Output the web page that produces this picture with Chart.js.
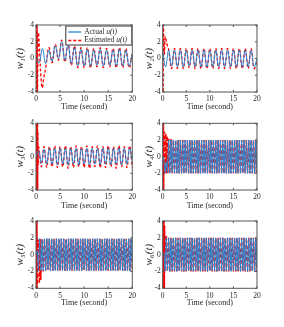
<!DOCTYPE html>
<html><head><meta charset="utf-8">
<script src="https://cdn.jsdelivr.net/npm/chart.js@4.4.0/dist/chart.umd.min.js"></script>
<style>
html,body{margin:0;padding:0;background:#fff;}
body{width:284px;height:327px;position:relative;overflow:hidden;}
canvas{position:absolute;display:block;}
</style></head><body>
<canvas id="c1"></canvas><canvas id="c2"></canvas><canvas id="c3"></canvas>
<canvas id="c4"></canvas><canvas id="c5"></canvas><canvas id="c6"></canvas>
<script>
// ---------- DATA ----------
const xTicks = [0, 5, 10, 15, 20];
const yTicks = [-4, -2, 0, 2, 4];
const xTitle = 'Time (second)';
const yTitles = ['w\u2081(t)', 'w\u2082(t)', 'w\u2083(t)', 'w\u2084(t)', 'w\u2085(t)', 'w\u2086(t)'];
const seriesLabels = ['Actual u(t)', 'Estimated u(t)'];

// sample spacing (s) of the peak/trough readings in each panel
const sampleStep = [2/3, 0.625, 20/36, 0.25, 0.25, 0.25];

// w1
const w1Actual = [0.0,-0.5,1.2,-0.6,1.0,-0.3,1.5,0.0,2.0,-0.2,1.6,-0.6,1.3,-0.9,1.1,-0.9,1.1,-0.9,1.0,-0.8,1.1,-0.9,1.0,-0.8,1.0,-0.9,1.1,-0.9,1.0,-0.9,0.6];
const w1Est = [null,null,null,-1.2,1.3,-0.5,1.7,-0.2,2.2,-0.4,1.8,-0.8,1.5,-1.1,1.3,-1.1,1.3,-1.1,1.2,-1.0,1.3,-1.1,1.2,-1.0,1.2,-1.1,1.3,-1.1,1.2,-1.1,0.7];
const w1EstHeadT = [0,0.06,0.12,0.18,0.24,0.3,0.5,0.75,1.0,1.3,1.65];
const w1EstHeadV = [4,-4,4,-4,4,-4,3.0,0.8,-2.0,-3.5,-2.2];

// w2
const w2Actual = [0.9,-1.0,1.0,-0.9,1.0,-1.0,1.0,-1.0,1.0,-0.9,1.0,-1.0,1.0,-1.0,1.0,-1.0,1.0,-1.0,1.0,-1.0,1.0,-1.0,1.0,-1.0,1.0,-1.0,1.0,-1.0,1.0,-1.0,1.0,-1.0,0.0];
const w2Est = [null,null,1.1,-1.2,1.2,-1.2,1.2,-1.2,1.2,-1.1,1.2,-1.2,1.2,-1.2,1.2,-1.2,1.2,-1.2,1.2,-1.2,1.2,-1.2,1.2,-1.2,1.2,-1.2,1.2,-1.2,1.2,-1.2,1.2,-1.2,-0.3];
const w2EstHeadT = [0,0.05,0.1,0.15,0.35,0.55,0.8,1.0];
const w2EstHeadV = [-4,4,-4,4,0.5,2.6,2.0,1.5];

// w3
const w3Actual = [0.0,0.7,-0.8,0.9,-0.9,1.0,-0.9,1.0,-1.0,1.0,-0.9,1.0,-1.0,1.0,-0.9,1.0,-1.0,1.0,-0.9,1.0,-1.0,1.0,-0.9,1.0,-1.0,1.0,-0.9,1.0,-1.0,1.0,-0.9,1.0,-1.0,1.0,-0.9,1.0,-0.6];
const w3Est = [null,1.2,-1.2,1.2,-1.3,1.2,-1.2,1.3,-1.3,1.2,-1.2,1.3,-1.4,1.2,-1.3,1.3,-1.2,1.2,-1.3,1.3,-1.4,1.2,-1.2,1.3,-1.3,1.2,-1.3,1.3,-1.2,1.2,-1.4,1.3,-1.2,1.2,-1.3,1.3,-1.3];
const w3EstHeadT = [0,0.04,0.08,0.12,0.16,0.2,0.24,0.28,0.32,0.36,0.4,0.45];
const w3EstHeadV = [4,-4,4,-4,4,-4,4,-4,4,-4,3,-1];

// w4
const w4Actual = [0.0,-0.4,-1.9,-0.6,-1.9,
 2.0,-2.0,2.0,-1.9,2.0,-2.0,1.9,-2.0,2.0,-2.0,2.0,-2.0,1.9,-2.0,2.0,-1.9,2.0,-2.0,2.0,-2.0,
 2.0,-2.0,2.0,-1.9,2.0,-2.0,1.9,-2.0,2.0,-2.0,2.0,-2.0,1.9,-2.0,2.0,-1.9,2.0,-2.0,2.0,-2.0,
 2.0,-2.0,2.0,-1.9,2.0,-2.0,1.9,-2.0,2.0,-2.0,2.0,-2.0,1.9,-2.0,2.0,-1.9,2.0,-2.0,2.0,-2.0,
 2.0,-2.0,2.0,-1.9,2.0,-2.0,1.9,-2.0,2.0,-2.0,2.0,-2.0,1.9,-2.0,2.0,-1.9];
const w4Est = [null,null,null,null,null,
 2.2,-2.0,2.1,-2.0,2.0,-2.0,2.0,-2.0,2.0,-2.0,2.0,-2.0,2.0,-2.0,2.0,-2.0,2.0,-2.0,2.0,-2.0,
 2.0,-2.0,2.0,-2.0,2.0,-2.0,2.0,-2.0,2.0,-2.0,2.0,-2.0,2.0,-2.0,2.0,-2.0,2.0,-2.0,2.0,-2.0,
 2.0,-2.0,2.0,-2.0,2.0,-2.0,2.0,-2.0,2.0,-2.0,2.0,-2.0,2.0,-2.0,2.0,-2.0,2.0,-2.0,2.0,-2.0,
 2.0,-2.0,2.0,-2.0,2.0,-2.0,2.0,-2.0,2.0,-2.0,2.0,-2.0,2.0,-2.0,2.0,-2.0];
const w4EstHeadT = [0,0.04,0.08,0.12,0.16,0.2,0.35,0.5,0.65,0.8,0.95,1.1];
const w4EstHeadV = [4,-4,4,-4,4,-4,3.0,-2.0,2.8,-2.0,2.5,-2.0];

// w5
const w5Actual = [0.0,0.5,-1.9,
 1.9,-1.9,1.8,-1.9,1.9,-1.9,1.9,-1.8,1.9,-1.9,1.9,-1.9,1.8,-1.9,1.9,-1.9,1.9,-1.8,1.9,-1.9,
 1.9,-1.9,1.8,-1.9,1.9,-1.9,1.9,-1.8,1.9,-1.9,1.9,-1.9,1.8,-1.9,1.9,-1.9,1.9,-1.8,1.9,-1.9,
 1.9,-1.9,1.8,-1.9,1.9,-1.9,1.9,-1.8,1.9,-1.9,1.9,-1.9,1.8,-1.9,1.9,-1.9,1.9,-1.8,1.9,-1.9,
 1.9,-1.9,1.8,-1.9,1.9,-1.9,1.9,-1.8,1.9,-1.9,1.9,-1.9,1.8,-1.9,1.9,-1.9,1.9,-1.8];
const w5Est = [null,null,null,null,null,
 1.9,-2.0,1.9,-1.9,1.9,-1.9,1.9,-1.9,1.9,-1.9,1.9,-1.9,1.9,-1.9,1.9,-1.9,1.9,-1.9,1.9,-1.9,
 1.9,-1.9,1.9,-1.9,1.9,-1.9,1.9,-1.9,1.9,-1.9,1.9,-1.9,1.9,-1.9,1.9,-1.9,1.9,-1.9,1.9,-1.9,
 1.9,-1.9,1.9,-1.9,1.9,-1.9,1.9,-1.9,1.9,-1.9,1.9,-1.9,1.9,-1.9,1.9,-1.9,1.9,-1.9,1.9,-1.9,
 1.9,-1.9,1.9,-1.9,1.9,-1.9,1.9,-1.9,1.9,-1.9,1.9,-1.9,1.9,-1.9,1.9,-1.9];
const w5EstHeadT = [0,0.04,0.08,0.12,0.16,0.2,0.24,0.45,0.7,0.85,1.0];
const w5EstHeadV = [-4,4,-4,4,-4,4,-4,1.8,-3.4,1.9,-3.0];

// w6
const w6Actual = [0.0,0.2,-1.9,
 2.0,-1.9,2.0,-2.0,1.9,-1.9,2.0,-1.9,2.0,-2.0,1.9,-1.9,2.0,-1.9,2.0,-2.0,1.9,-1.9,2.0,-1.9,
 2.0,-1.9,2.0,-2.0,1.9,-1.9,2.0,-1.9,2.0,-2.0,1.9,-1.9,2.0,-1.9,2.0,-2.0,1.9,-1.9,2.0,-1.9,
 2.0,-1.9,2.0,-2.0,1.9,-1.9,2.0,-1.9,2.0,-2.0,1.9,-1.9,2.0,-1.9,2.0,-2.0,1.9,-1.9,2.0,-1.9,
 2.0,-1.9,2.0,-2.0,1.9,-1.9,2.0,-1.9,2.0,-2.0,1.9,-1.9,2.0,-1.9,2.0,-2.0,1.9,-1.9];
const w6Est = [null,null,null,null,null,
 2.0,-2.0,2.0,-2.0,2.0,-2.0,2.0,-2.0,2.0,-2.0,2.0,-2.0,2.0,-2.0,2.0,-2.0,2.0,-2.0,2.0,-2.0,
 2.0,-2.0,2.0,-2.0,2.0,-2.0,2.0,-2.0,2.0,-2.0,2.0,-2.0,2.0,-2.0,2.0,-2.0,2.0,-2.0,2.0,-2.0,
 2.0,-2.0,2.0,-2.0,2.0,-2.0,2.0,-2.0,2.0,-2.0,2.0,-2.0,2.0,-2.0,2.0,-2.0,2.0,-2.0,2.0,-2.0,
 2.0,-2.0,2.0,-2.0,2.0,-2.0,2.0,-2.0,2.0,-2.0,2.0,-2.0,2.0,-2.0,2.0,-2.0];
const w6EstHeadT = [0,0.05,0.1,0.15,0.2,0.25,0.3,0.35,0.4,0.5,0.75,1.0];
const w6EstHeadV = [4,-4,4,-4,4,-4,4,-4,3.5,-2.0,2.3,-2.0];

// ---------- STYLE / LAYOUT ----------
const BLUE = '#2a86d1', RED = '#FF0000', INK = '#262626', AXIS = '#555555';
const FAM = '"Liberation Serif","Times New Roman",serif';
const cols = [{L:0, W:142, boxL:36, boxR:132.3, titleX:20.5}, {L:142, W:142, boxL:162.7, boxR:257, titleX:149}];
const rows = [{T:0, H:112, A:25, B:92, C:107.5}, {T:112, H:102, A:123.3, B:190, C:205.7}, {T:214, H:113, A:221, B:288.3, C:303}];

const actuals = [w1Actual, w2Actual, w3Actual, w4Actual, w5Actual, w6Actual];
const ests = [w1Est, w2Est, w3Est, w4Est, w5Est, w6Est];
const headsT = [w1EstHeadT, w2EstHeadT, w3EstHeadT, w4EstHeadT, w5EstHeadT, w6EstHeadT];
const headsV = [w1EstHeadV, w2EstHeadV, w3EstHeadV, w4EstHeadV, w5EstHeadV, w6EstHeadV];

function gridPts(dt, vals) { const o = []; vals.forEach((v, i) => { if (v !== null) o.push({x: i * dt, y: v}); }); return o; }
function headPts(T, V) { return T.map((t, i) => ({x: t, y: V[i]})); }

const boxPlugin = {
  id: 'box',
  afterDatasetsDraw(chart) {
    const {ctx, chartArea: a, scales: {x, y}} = chart;
    ctx.save();
    ctx.strokeStyle = AXIS; ctx.lineWidth = 1;
    ctx.strokeRect(a.left, a.top, a.right - a.left, a.bottom - a.top);
    ctx.beginPath();
    xTicks.forEach(v => { const p = x.getPixelForValue(v); ctx.moveTo(p, a.bottom); ctx.lineTo(p, a.bottom - 2); ctx.moveTo(p, a.top); ctx.lineTo(p, a.top + 2); });
    yTicks.forEach(v => { const p = y.getPixelForValue(v); ctx.moveTo(a.left, p); ctx.lineTo(a.left + 2, p); ctx.moveTo(a.right, p); ctx.lineTo(a.right - 2, p); });
    ctx.stroke();
    ctx.restore();
  }
};

const legendPlugin = {
  id: 'boxLegend',
  afterDatasetsDraw(chart) {
    const {ctx, chartArea: a} = chart;
    const bw = 67, bh = 20, bx = a.right - bw, by = a.top + 0.5;
    ctx.save();
    ctx.fillStyle = '#fff'; ctx.fillRect(bx, by, bw, bh);
    ctx.strokeStyle = '#333'; ctx.lineWidth = 1; ctx.strokeRect(bx + 0.5, by + 0.5, bw - 1, bh - 1);
    chart.data.datasets.forEach((ds, i) => {
      const yy = by + 6.5 + i * 8.5;
      ctx.beginPath(); ctx.strokeStyle = ds.borderColor; ctx.lineWidth = 1.3;
      ctx.setLineDash(ds.borderDash || []);
      ctx.moveTo(bx + 3, yy); ctx.lineTo(bx + 16, yy); ctx.stroke();
      ctx.setLineDash([]);
      const m = ds.label.match(/^(.*?)(u\(t\))$/);
      ctx.fillStyle = INK; ctx.textBaseline = 'middle'; ctx.textAlign = 'left';
      ctx.font = '7.5px ' + FAM;
      ctx.fillText(m[1], bx + 19, yy);
      const w = ctx.measureText(m[1]).width;
      ctx.font = 'italic 7.5px ' + FAM;
      ctx.fillText(m[2], bx + 19 + w, yy);
    });
    ctx.restore();
  }
};

for (let k = 0; k < 6; k++) {
  const c = cols[k % 2], r = rows[Math.floor(k / 2)];
  const cv = document.getElementById('c' + (k + 1));
  cv.width = c.W; cv.height = r.H;
  cv.style.left = c.L + 'px'; cv.style.top = r.T + 'px';
  cv.style.width = c.W + 'px'; cv.style.height = r.H + 'px';
  const dt = sampleStep[k];
  const estData = headPts(headsT[k], headsV[k]).concat(gridPts(dt, ests[k]));
  const dense = k >= 3;
  const tension = dense ? 0 : 0.4;
  const xLH = 8 * 1.2, yLH = 11 * 1.2;
  new Chart(cv, {
    type: 'line',
    data: {datasets: [
      {label: seriesLabels[0], data: gridPts(dt, actuals[k]), borderColor: BLUE, borderWidth: 1, pointRadius: 0, tension: tension, fill: false},
      {label: seriesLabels[1], data: estData, borderColor: RED, borderWidth: dense ? 1.5 : 1.3, borderDash: dense ? [4, 2] : [3, 2], pointRadius: 0, tension: tension, fill: false}
    ]},
    options: {
      responsive: false, animation: false, devicePixelRatio: 1,
      layout: {padding: {top: r.A - r.T, right: c.W - (c.boxR - c.L), left: 0, bottom: 0}},
      plugins: {legend: {display: false}, tooltip: {enabled: false}},
      scales: {
        x: {
          type: 'linear', min: 0, max: 20,
          afterBuildTicks: s => { s.ticks = xTicks.map(v => ({value: v})); },
          afterFit: s => { s.height = r.T + r.H - r.B; },
          grid: {display: false, drawTicks: false, tickLength: 0}, border: {display: false},
          ticks: {padding: 3, color: INK, font: {family: FAM, size: 7.5}, maxRotation: 0, autoSkip: false},
          title: {display: true, text: xTitle, color: INK, font: {family: FAM, size: 8}, padding: {top: 0, bottom: Math.max(0, r.T + r.H - r.C - xLH / 2)}}
        },
        y: {
          type: 'linear', min: -4, max: 4,
          afterBuildTicks: s => { s.ticks = yTicks.map(v => ({value: v})); },
          afterFit: s => { s.width = c.boxL - c.L; },
          grid: {display: false, drawTicks: false, tickLength: 0}, border: {display: false},
          ticks: {padding: 2, color: INK, font: {family: FAM, size: 7.5}},
          title: {display: true, text: yTitles[k], color: INK, font: {family: FAM, size: 11, style: 'italic'}, padding: {top: c.titleX - c.L - yLH / 2, bottom: 0}}
        }
      }
    },
    plugins: k === 0 ? [boxPlugin, legendPlugin] : [boxPlugin]
  });
}
</script>
</body></html>
